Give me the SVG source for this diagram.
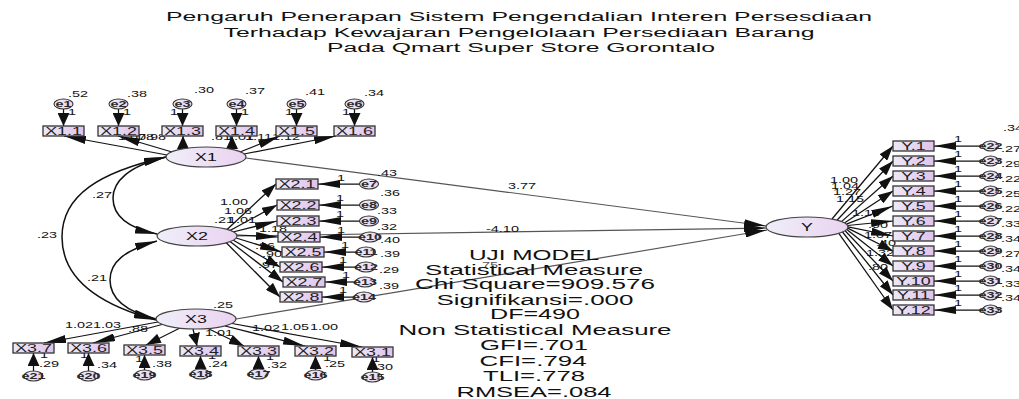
<svg xmlns="http://www.w3.org/2000/svg" width="1019" height="399" viewBox="0 0 1019 399">
<defs>
<linearGradient id="gBox" x1="0" y1="0" x2="1" y2="0"><stop offset="0" stop-color="#ece9f7"/><stop offset="1" stop-color="#e0c3ea"/></linearGradient>
<linearGradient id="gLat" x1="0" y1="0" x2="1" y2="0"><stop offset="0" stop-color="#efeef9"/><stop offset="1" stop-color="#ead3f0"/></linearGradient>
<marker id="aH" viewBox="0 0 22 8" refX="22" refY="4" markerWidth="22" markerHeight="8" orient="auto-start-reverse" markerUnits="userSpaceOnUse"><path d="M0,0 L22,4 L0,8 z" fill="#111"/></marker>
<marker id="aD" viewBox="0 0 15 10" refX="15" refY="5" markerWidth="15" markerHeight="10" orient="auto-start-reverse" markerUnits="userSpaceOnUse"><path d="M0,0 L15,5 L0,10 z" fill="#111"/></marker>
<marker id="aV" viewBox="0 0 13 12" refX="13" refY="6" markerWidth="13" markerHeight="12" orient="auto-start-reverse" markerUnits="userSpaceOnUse"><path d="M0,0 L13,6 L0,12 z" fill="#111"/></marker>
</defs>
<style>
.t{font-family:"Liberation Sans",Arial,sans-serif;fill:#111}
.s{font-size:8.5px}
.bx{font-size:10.5px;text-anchor:middle;fill:#1e1e1e}
.lt{font-size:11.5px;text-anchor:middle}
.er{font-size:9px;font-weight:bold;text-anchor:middle;fill:#2a2a2a}
.ti{font-size:12.5px;text-anchor:middle}
.st{font-size:15.5px;text-anchor:middle}
.box{fill:url(#gBox);stroke:#333;stroke-width:1.3}
.lat{fill:url(#gLat);stroke:#444;stroke-width:1.2}
.err{fill:url(#gLat);stroke:#333;stroke-width:1.1}
.c{fill:none;stroke:#111;stroke-width:1.25}
.g{fill:none;stroke:#555;stroke-width:1.2}
.h{marker-end:url(#aH)}
.d{marker-end:url(#aD)}
.v{marker-end:url(#aV)}
.cov{fill:none;stroke:#111;stroke-width:1.5;marker-start:url(#aH);marker-end:url(#aH)}
</style>
<rect width="1019" height="399" fill="#fff"/>

<g id="title">
<text class="t ti" x="519" y="21" textLength="706" lengthAdjust="spacingAndGlyphs">Pengaruh Penerapan Sistem Pengendalian Interen Persesdiaan</text>
<text class="t ti" x="519" y="36.5" textLength="591" lengthAdjust="spacingAndGlyphs">Terhadap Kewajaran Pengelolaan Persediaan Barang</text>
<text class="t ti" x="521" y="51.5" textLength="388" lengthAdjust="spacingAndGlyphs">Pada Qmart Super Store Gorontalo</text>
</g>

<g id="connectors">
<!-- covariances -->
<path class="cov" d="M166,157 C128,166 113,182 113,198 C113,216 128,228 157,234"/>
<path class="cov" d="M166,157 C100,172 62,195 62,237 C62,280 100,305 156,320"/>
<path class="cov" d="M157,241 C125,250 110,262 110,280 C110,300 128,312 156,319"/>
<!-- structural -->
<line class="g h" x1="246" y1="158" x2="766" y2="226"/>
<line class="g h" x1="237" y1="236" x2="766" y2="228"/>
<line class="g h" x1="236" y1="319" x2="767" y2="230"/>
<!-- X1 loadings -->
<line class="c h" x1="167" y1="155" x2="64" y2="136"/>
<line class="c h" x1="172" y1="152" x2="118" y2="136"/>
<line class="c v" x1="183" y1="149" x2="183" y2="136"/>
<line class="c v" x1="232" y1="149.5" x2="232" y2="136"/>
<line class="c h" x1="240" y1="152" x2="280" y2="136"/>
<line class="c h" x1="244" y1="154" x2="336" y2="136"/>
<!-- X1 errors -->
<line class="c v" x1="63.5" y1="108.5" x2="63.5" y2="126"/>
<line class="c v" x1="118.5" y1="108.5" x2="118.5" y2="126"/>
<line class="c v" x1="182.5" y1="108.5" x2="182.5" y2="126"/>
<line class="c v" x1="236.5" y1="108.5" x2="236.5" y2="126"/>
<line class="c v" x1="296.5" y1="108.5" x2="296.5" y2="126"/>
<line class="c v" x1="354.5" y1="108.5" x2="354.5" y2="126"/>
<!-- X2 loadings -->
<line class="c d" x1="227" y1="229.5" x2="276" y2="184"/>
<line class="c d" x1="230" y1="230.5" x2="277" y2="205"/>
<line class="c h" x1="233" y1="232" x2="277" y2="221"/>
<line class="c h" x1="236" y1="235" x2="278" y2="237"/>
<line class="c h" x1="236" y1="238" x2="282" y2="252"/>
<line class="c d" x1="233" y1="240" x2="280" y2="267"/>
<line class="c d" x1="230" y1="241.5" x2="283" y2="282"/>
<line class="c d" x1="226" y1="242.5" x2="280" y2="297"/>
<!-- X2 errors -->
<line class="c h" x1="360" y1="184" x2="318" y2="184"/>
<line class="c h" x1="360" y1="205" x2="319" y2="205"/>
<line class="c h" x1="360" y1="221" x2="319" y2="221"/>
<line class="c h" x1="361" y1="237" x2="320" y2="237"/>
<line class="c h" x1="357" y1="252" x2="324" y2="252"/>
<line class="c h" x1="357" y1="267" x2="322" y2="267"/>
<line class="c h" x1="356" y1="282" x2="325" y2="282"/>
<line class="c h" x1="355" y1="297" x2="322" y2="297"/>
<!-- X3 loadings -->
<line class="c h" x1="158" y1="322" x2="44" y2="343"/>
<line class="c h" x1="162" y1="324.5" x2="93" y2="343"/>
<line class="c d" x1="180" y1="328" x2="146" y2="345"/>
<line class="c v" x1="193" y1="329" x2="197" y2="346"/>
<line class="c d" x1="208" y1="328.5" x2="244" y2="346"/>
<line class="c h" x1="225" y1="326" x2="305" y2="346"/>
<line class="c h" x1="232" y1="323.5" x2="362" y2="347"/>
<!-- X3 errors -->
<line class="c v" x1="33.5" y1="371" x2="33.5" y2="353"/>
<line class="c v" x1="88.5" y1="371" x2="88.5" y2="353"/>
<line class="c v" x1="144.5" y1="370" x2="144.5" y2="355"/>
<line class="c v" x1="200.5" y1="369" x2="200.5" y2="356"/>
<line class="c v" x1="258.5" y1="369" x2="258.5" y2="356"/>
<line class="c v" x1="315.5" y1="370" x2="315.5" y2="356"/>
<line class="c v" x1="372.5" y1="372" x2="372.5" y2="357"/>
<!-- Y loadings -->
<line class="c d" x1="832" y1="219" x2="893" y2="146"/>
<line class="c d" x1="837" y1="220.3" x2="893" y2="161"/>
<line class="c d" x1="841.5" y1="221.6" x2="893" y2="176"/>
<line class="c d" x1="844.4" y1="222.9" x2="893" y2="191"/>
<line class="c h" x1="846.4" y1="224.2" x2="893" y2="206"/>
<line class="c h" x1="847.5" y1="225.5" x2="893" y2="221"/>
<line class="c h" x1="848" y1="226.8" x2="893" y2="236"/>
<line class="c d" x1="847.7" y1="228.1" x2="893" y2="251"/>
<line class="c d" x1="846.8" y1="229.4" x2="893" y2="266"/>
<line class="c d" x1="845.1" y1="230.7" x2="893" y2="281"/>
<line class="c d" x1="842.5" y1="232" x2="893" y2="295"/>
<line class="c d" x1="838.8" y1="233.3" x2="893" y2="310"/>
<!-- Y errors -->
<line class="c h" x1="983" y1="146" x2="934" y2="146"/>
<line class="c h" x1="983" y1="161" x2="934" y2="161"/>
<line class="c h" x1="983" y1="176" x2="934" y2="176"/>
<line class="c h" x1="983" y1="191" x2="934" y2="191"/>
<line class="c h" x1="983" y1="206" x2="934" y2="206"/>
<line class="c h" x1="983" y1="221" x2="934" y2="221"/>
<line class="c h" x1="983" y1="236" x2="934" y2="236"/>
<line class="c h" x1="983" y1="251" x2="934" y2="251"/>
<line class="c h" x1="983" y1="266" x2="934" y2="266"/>
<line class="c h" x1="983" y1="281" x2="934" y2="281"/>
<line class="c h" x1="983" y1="295" x2="934" y2="295"/>
<line class="c h" x1="983" y1="310" x2="934" y2="310"/>

<!-- labels -->
<g class="t s">
<text transform="translate(92,198) scale(1.7,1)">.27</text>
<text transform="translate(37,238) scale(1.7,1)">.23</text>
<text transform="translate(87,281) scale(1.7,1)">.21</text>
<text transform="translate(377,176) scale(1.7,1)">.43</text>
<text transform="translate(508,189) scale(1.7,1)">3.77</text>
<text transform="translate(486,232) scale(1.7,1)">-4.10</text>
<text transform="translate(478,268) scale(1.7,1)" fill="#555">.75</text>
<!-- X1 -->
<text transform="translate(68,97) scale(1.7,1)">.52</text>
<text transform="translate(127,97) scale(1.7,1)">.38</text>
<text transform="translate(194,93) scale(1.7,1)">.30</text>
<text transform="translate(245,94) scale(1.7,1)">.37</text>
<text transform="translate(305,95) scale(1.7,1)">.41</text>
<text transform="translate(364,96) scale(1.7,1)">.34</text>
<text transform="translate(68,115) scale(1.7,1)">1</text>
<text transform="translate(123,115) scale(1.7,1)">1</text>
<text transform="translate(170,115) scale(1.7,1)">1</text>
<text transform="translate(241,115) scale(1.7,1)">1</text>
<text transform="translate(285,115) scale(1.7,1)">1</text>
<text transform="translate(342,115) scale(1.7,1)">1</text>
<text transform="translate(118,140) scale(1.7,1)">1.00</text>
<text transform="translate(134,140) scale(1.7,1)">.78</text>
<text transform="translate(146,140) scale(1.7,1)">.98</text>
<text transform="translate(211,140) scale(1.7,1)">.81</text>
<text transform="translate(226,140) scale(1.7,1)">1.01</text>
<text transform="translate(245,140) scale(1.7,1)">1.11</text>
<text transform="translate(272,140) scale(1.7,1)">1.12</text>
<!-- X2 -->
<text transform="translate(220,205) scale(1.7,1)">1.00</text>
<text transform="translate(224,214) scale(1.7,1)">1.06</text>
<text transform="translate(214,223) scale(1.7,1)">.21</text>
<text transform="translate(228,223) scale(1.7,1)">1.01</text>
<text transform="translate(259,232) scale(1.7,1)">1.18</text>
<text transform="translate(255,249) scale(1.7,1)">.96</text>
<text transform="translate(262,257) scale(1.7,1)">.90</text>
<text transform="translate(258,268) scale(1.7,1)">.97</text>
<text transform="translate(337,181) scale(1.7,1)">1</text>
<text transform="translate(336,201) scale(1.7,1)">1</text>
<text transform="translate(336,217) scale(1.7,1)">1</text>
<text transform="translate(337,233) scale(1.7,1)">1</text>
<text transform="translate(341,248) scale(1.7,1)">1</text>
<text transform="translate(339,263) scale(1.7,1)">1</text>
<text transform="translate(342,278) scale(1.7,1)">1</text>
<text transform="translate(339,293) scale(1.7,1)">1</text>
<text transform="translate(380,196) scale(1.7,1)">.36</text>
<text transform="translate(377,214) scale(1.7,1)">.33</text>
<text transform="translate(377,230) scale(1.7,1)">.32</text>
<text transform="translate(380,243) scale(1.7,1)">.40</text>
<text transform="translate(380,257) scale(1.7,1)">.39</text>
<text transform="translate(379,273) scale(1.7,1)">.29</text>
<text transform="translate(379,289) scale(1.7,1)">.39</text>
<!-- X3 -->
<text transform="translate(213,308) scale(1.7,1)">.25</text>
<text transform="translate(65,328) scale(1.7,1)">1.02</text>
<text transform="translate(93,328) scale(1.7,1)">1.03</text>
<text transform="translate(128,332) scale(1.7,1)">.88</text>
<text transform="translate(205,336) scale(1.7,1)">1.01</text>
<text transform="translate(252,331) scale(1.7,1)">1.02</text>
<text transform="translate(281,330) scale(1.7,1)">1.05</text>
<text transform="translate(310,330) scale(1.7,1)">1.00</text>
<text transform="translate(40,358) scale(1.7,1)">1</text>
<text transform="translate(80,358) scale(1.7,1)">1</text>
<text transform="translate(135,362) scale(1.7,1)">1</text>
<text transform="translate(208,359) scale(1.7,1)">1</text>
<text transform="translate(266,360) scale(1.7,1)">1</text>
<text transform="translate(323,361) scale(1.7,1)">1</text>
<text transform="translate(372,362) scale(1.7,1)">1</text>
<text transform="translate(39,367) scale(1.7,1)">.29</text>
<text transform="translate(97,368) scale(1.7,1)">.34</text>
<text transform="translate(152,367) scale(1.7,1)">.38</text>
<text transform="translate(208,367) scale(1.7,1)">.24</text>
<text transform="translate(267,368) scale(1.7,1)">.32</text>
<text transform="translate(325,367) scale(1.7,1)">.25</text>
<text transform="translate(373,370) scale(1.7,1)">.30</text>
<!-- Y -->
<text transform="translate(830,183) scale(1.7,1)">1.00</text>
<text transform="translate(831,189) scale(1.7,1)">1.04</text>
<text transform="translate(833,195) scale(1.7,1)">1.27</text>
<text transform="translate(836,202) scale(1.7,1)">1.15</text>
<text transform="translate(852,216) scale(1.7,1)">1.16</text>
<text transform="translate(868,228) scale(1.7,1)">.90</text>
<text transform="translate(864,238) scale(1.7,1)">1.07</text>
<text transform="translate(876,246) scale(1.7,1)">.40</text>
<text transform="translate(866,256) scale(1.7,1)">1.32</text>
<text transform="translate(868,270) scale(1.7,1)">.80</text>
<text transform="translate(954,142) scale(1.7,1)">1</text>
<text transform="translate(954,157) scale(1.7,1)">1</text>
<text transform="translate(954,172) scale(1.7,1)">1</text>
<text transform="translate(954,187) scale(1.7,1)">1</text>
<text transform="translate(954,202) scale(1.7,1)">1</text>
<text transform="translate(954,217) scale(1.7,1)">1</text>
<text transform="translate(954,232) scale(1.7,1)">1</text>
<text transform="translate(954,247) scale(1.7,1)">1</text>
<text transform="translate(954,262) scale(1.7,1)">1</text>
<text transform="translate(954,277) scale(1.7,1)">1</text>
<text transform="translate(954,291) scale(1.7,1)">1</text>
<text transform="translate(954,306) scale(1.7,1)">1</text>
<text transform="translate(1003,131) scale(1.7,1)">.34</text>
<text transform="translate(1001,152) scale(1.7,1)">.27</text>
<text transform="translate(1001,167) scale(1.7,1)">.29</text>
<text transform="translate(1001,182) scale(1.7,1)">.22</text>
<text transform="translate(1001,197) scale(1.7,1)">.25</text>
<text transform="translate(1001,212) scale(1.7,1)">.22</text>
<text transform="translate(1001,227) scale(1.7,1)">.33</text>
<text transform="translate(1001,242) scale(1.7,1)">.34</text>
<text transform="translate(1001,257) scale(1.7,1)">.27</text>
<text transform="translate(1001,272) scale(1.7,1)">.34</text>
<text transform="translate(1001,287) scale(1.7,1)">.33</text>
<text transform="translate(1001,301) scale(1.7,1)">.34</text>
</g>
</g>

<!-- latent nodes -->
<g id="X1"><ellipse class="lat" cx="206" cy="157" rx="40" ry="10"/><text class="t lt" transform="translate(206,161) scale(1.55,1)">X1</text></g>
<g id="X2"><ellipse class="lat" cx="197" cy="236" rx="40" ry="10"/><text class="t lt" transform="translate(197,240) scale(1.55,1)">X2</text></g>
<g id="X3"><ellipse class="lat" cx="196" cy="319" rx="40" ry="10"/><text class="t lt" transform="translate(196,323) scale(1.55,1)">X3</text></g>
<g id="Y"><ellipse class="lat" cx="807" cy="227" rx="41" ry="10"/><text class="t lt" transform="translate(807,231) scale(1.55,1)">Y</text></g>

<!-- X1 indicators -->
<g id="X1_1"><rect class="box" x="43" y="126" width="41" height="10"/><text class="t bx" transform="translate(63.5,134.8) scale(1.7,1)">X1.1</text></g>
<g id="X1_2"><rect class="box" x="98" y="126" width="41" height="10"/><text class="t bx" transform="translate(118.5,134.8) scale(1.7,1)">X1.2</text></g>
<g id="X1_3"><rect class="box" x="162" y="126" width="41" height="10"/><text class="t bx" transform="translate(182.5,134.8) scale(1.7,1)">X1.3</text></g>
<g id="X1_4"><rect class="box" x="216" y="126" width="41" height="10"/><text class="t bx" transform="translate(236.5,134.8) scale(1.7,1)">X1.4</text></g>
<g id="X1_5"><rect class="box" x="276" y="126" width="41" height="10"/><text class="t bx" transform="translate(296.5,134.8) scale(1.7,1)">X1.5</text></g>
<g id="X1_6"><rect class="box" x="334" y="126" width="41" height="10"/><text class="t bx" transform="translate(354.5,134.8) scale(1.7,1)">X1.6</text></g>
<g id="e1"><ellipse class="err" cx="63.5" cy="104" rx="9.5" ry="5"/><text class="t er" transform="translate(63.5,107.3) scale(1.6,1)">e1</text></g>
<g id="e2"><ellipse class="err" cx="118.5" cy="104" rx="9.5" ry="5"/><text class="t er" transform="translate(118.5,107.3) scale(1.6,1)">e2</text></g>
<g id="e3"><ellipse class="err" cx="182.5" cy="104" rx="9.5" ry="5"/><text class="t er" transform="translate(182.5,107.3) scale(1.6,1)">e3</text></g>
<g id="e4"><ellipse class="err" cx="236.5" cy="104" rx="9.5" ry="5"/><text class="t er" transform="translate(236.5,107.3) scale(1.6,1)">e4</text></g>
<g id="e5"><ellipse class="err" cx="296.5" cy="104" rx="9.5" ry="5"/><text class="t er" transform="translate(296.5,107.3) scale(1.6,1)">e5</text></g>
<g id="e6"><ellipse class="err" cx="354.5" cy="104" rx="9.5" ry="5"/><text class="t er" transform="translate(354.5,107.3) scale(1.6,1)">e6</text></g>

<!-- X2 indicators -->
<g id="X2_1"><rect class="box" x="276" y="179" width="42" height="10"/><text class="t bx" transform="translate(297,187.8) scale(1.7,1)">X2.1</text></g>
<g id="X2_2"><rect class="box" x="277" y="200" width="42" height="10"/><text class="t bx" transform="translate(298,208.8) scale(1.7,1)">X2.2</text></g>
<g id="X2_3"><rect class="box" x="277" y="216" width="42" height="10"/><text class="t bx" transform="translate(298,224.8) scale(1.7,1)">X2.3</text></g>
<g id="X2_4"><rect class="box" x="278" y="232" width="42" height="10"/><text class="t bx" transform="translate(299,240.8) scale(1.7,1)">X2.4</text></g>
<g id="X2_5"><rect class="box" x="282" y="247" width="42" height="10"/><text class="t bx" transform="translate(303,255.8) scale(1.7,1)">X2.5</text></g>
<g id="X2_6"><rect class="box" x="280" y="262" width="42" height="10"/><text class="t bx" transform="translate(301,270.8) scale(1.7,1)">X2.6</text></g>
<g id="X2_7"><rect class="box" x="283" y="277" width="42" height="10"/><text class="t bx" transform="translate(304,285.8) scale(1.7,1)">X2.7</text></g>
<g id="X2_8"><rect class="box" x="280" y="292" width="42" height="10"/><text class="t bx" transform="translate(301,300.8) scale(1.7,1)">X2.8</text></g>
<g id="e7"><ellipse class="err" cx="369" cy="184" rx="9.5" ry="5"/><text class="t er" transform="translate(369,187.3) scale(1.6,1)">e7</text></g>
<g id="e8"><ellipse class="err" cx="369" cy="205" rx="9.5" ry="5"/><text class="t er" transform="translate(369,208.3) scale(1.6,1)">e8</text></g>
<g id="e9"><ellipse class="err" cx="369" cy="221" rx="9.5" ry="5"/><text class="t er" transform="translate(369,224.3) scale(1.6,1)">e9</text></g>
<g id="e10"><ellipse class="err" cx="370" cy="237" rx="9.5" ry="5"/><text class="t er" transform="translate(370,240.3) scale(1.6,1)">e10</text></g>
<g id="e11"><ellipse class="err" cx="366" cy="252" rx="9.5" ry="5"/><text class="t er" transform="translate(366,255.3) scale(1.6,1)">e11</text></g>
<g id="e12"><ellipse class="err" cx="366" cy="267" rx="9.5" ry="5"/><text class="t er" transform="translate(366,270.3) scale(1.6,1)">e12</text></g>
<g id="e13"><ellipse class="err" cx="365" cy="282" rx="9.5" ry="5"/><text class="t er" transform="translate(365,285.3) scale(1.6,1)">e13</text></g>
<g id="e14"><ellipse class="err" cx="364" cy="297" rx="9.5" ry="5"/><text class="t er" transform="translate(364,300.3) scale(1.6,1)">e14</text></g>

<!-- X3 indicators -->
<g id="X3_7"><rect class="box" x="13" y="343" width="41" height="10"/><text class="t bx" transform="translate(33.5,351.8) scale(1.7,1)">X3.7</text></g>
<g id="X3_6"><rect class="box" x="68" y="343" width="41" height="10"/><text class="t bx" transform="translate(88.5,351.8) scale(1.7,1)">X3.6</text></g>
<g id="X3_5"><rect class="box" x="124" y="345" width="41" height="10"/><text class="t bx" transform="translate(144.5,353.8) scale(1.7,1)">X3.5</text></g>
<g id="X3_4"><rect class="box" x="180" y="346" width="41" height="10"/><text class="t bx" transform="translate(200.5,354.8) scale(1.7,1)">X3.4</text></g>
<g id="X3_3"><rect class="box" x="238" y="346" width="41" height="10"/><text class="t bx" transform="translate(258.5,354.8) scale(1.7,1)">X3.3</text></g>
<g id="X3_2"><rect class="box" x="295" y="346" width="41" height="10"/><text class="t bx" transform="translate(315.5,354.8) scale(1.7,1)">X3.2</text></g>
<g id="X3_1"><rect class="box" x="352" y="347" width="41" height="10"/><text class="t bx" transform="translate(372.5,355.8) scale(1.7,1)">X3.1</text></g>
<g id="e21"><ellipse class="err" cx="33.5" cy="376" rx="9.5" ry="5"/><text class="t er" transform="translate(33.5,379.3) scale(1.6,1)">e21</text></g>
<g id="e20"><ellipse class="err" cx="88.5" cy="376" rx="9.5" ry="5"/><text class="t er" transform="translate(88.5,379.3) scale(1.6,1)">e20</text></g>
<g id="e19"><ellipse class="err" cx="144.5" cy="375" rx="9.5" ry="5"/><text class="t er" transform="translate(144.5,378.3) scale(1.6,1)">e19</text></g>
<g id="e18"><ellipse class="err" cx="200.5" cy="374" rx="9.5" ry="5"/><text class="t er" transform="translate(200.5,377.3) scale(1.6,1)">e18</text></g>
<g id="e17"><ellipse class="err" cx="258.5" cy="374" rx="9.5" ry="5"/><text class="t er" transform="translate(258.5,377.3) scale(1.6,1)">e17</text></g>
<g id="e16"><ellipse class="err" cx="315.5" cy="375" rx="9.5" ry="5"/><text class="t er" transform="translate(315.5,378.3) scale(1.6,1)">e16</text></g>
<g id="e15"><ellipse class="err" cx="372.5" cy="377" rx="9.5" ry="5"/><text class="t er" transform="translate(372.5,380.3) scale(1.6,1)">e15</text></g>

<!-- Y indicators -->
<g id="Y_1"><rect class="box" x="893" y="141" width="41" height="10"/><text class="t bx" transform="translate(913.5,149.8) scale(1.7,1)">Y.1</text></g>
<g id="Y_2"><rect class="box" x="893" y="156" width="41" height="10"/><text class="t bx" transform="translate(913.5,164.8) scale(1.7,1)">Y.2</text></g>
<g id="Y_3"><rect class="box" x="893" y="171" width="41" height="10"/><text class="t bx" transform="translate(913.5,179.8) scale(1.7,1)">Y.3</text></g>
<g id="Y_4"><rect class="box" x="893" y="186" width="41" height="10"/><text class="t bx" transform="translate(913.5,194.8) scale(1.7,1)">Y.4</text></g>
<g id="Y_5"><rect class="box" x="893" y="201" width="41" height="10"/><text class="t bx" transform="translate(913.5,209.8) scale(1.7,1)">Y.5</text></g>
<g id="Y_6"><rect class="box" x="893" y="216" width="41" height="10"/><text class="t bx" transform="translate(913.5,224.8) scale(1.7,1)">Y.6</text></g>
<g id="Y_7"><rect class="box" x="893" y="231" width="41" height="10"/><text class="t bx" transform="translate(913.5,239.8) scale(1.7,1)">Y.7</text></g>
<g id="Y_8"><rect class="box" x="893" y="246" width="41" height="10"/><text class="t bx" transform="translate(913.5,254.8) scale(1.7,1)">Y.8</text></g>
<g id="Y_9"><rect class="box" x="893" y="261" width="41" height="10"/><text class="t bx" transform="translate(913.5,269.8) scale(1.7,1)">Y.9</text></g>
<g id="Y_10"><rect class="box" x="893" y="276" width="41" height="10"/><text class="t bx" transform="translate(913.5,284.8) scale(1.7,1)">Y.10</text></g>
<g id="Y_11"><rect class="box" x="893" y="290" width="41" height="10"/><text class="t bx" transform="translate(913.5,298.8) scale(1.7,1)">Y.11</text></g>
<g id="Y_12"><rect class="box" x="893" y="305" width="41" height="10"/><text class="t bx" transform="translate(913.5,313.8) scale(1.7,1)">Y.12</text></g>
<g id="e22"><ellipse class="err" cx="990.5" cy="146" rx="8" ry="5"/><text class="t er" transform="translate(990.5,149.3) scale(1.6,1)">e22</text></g>
<g id="e23"><ellipse class="err" cx="990.5" cy="161" rx="8" ry="5"/><text class="t er" transform="translate(990.5,164.3) scale(1.6,1)">e23</text></g>
<g id="e24"><ellipse class="err" cx="990.5" cy="176" rx="8" ry="5"/><text class="t er" transform="translate(990.5,179.3) scale(1.6,1)">e24</text></g>
<g id="e25"><ellipse class="err" cx="990.5" cy="191" rx="8" ry="5"/><text class="t er" transform="translate(990.5,194.3) scale(1.6,1)">e25</text></g>
<g id="e26"><ellipse class="err" cx="990.5" cy="206" rx="8" ry="5"/><text class="t er" transform="translate(990.5,209.3) scale(1.6,1)">e26</text></g>
<g id="e27"><ellipse class="err" cx="990.5" cy="221" rx="8" ry="5"/><text class="t er" transform="translate(990.5,224.3) scale(1.6,1)">e27</text></g>
<g id="e28"><ellipse class="err" cx="990.5" cy="236" rx="8" ry="5"/><text class="t er" transform="translate(990.5,239.3) scale(1.6,1)">e28</text></g>
<g id="e29"><ellipse class="err" cx="990.5" cy="251" rx="8" ry="5"/><text class="t er" transform="translate(990.5,254.3) scale(1.6,1)">e29</text></g>
<g id="e30"><ellipse class="err" cx="990.5" cy="266" rx="8" ry="5"/><text class="t er" transform="translate(990.5,269.3) scale(1.6,1)">e30</text></g>
<g id="e31"><ellipse class="err" cx="990.5" cy="281" rx="8" ry="5"/><text class="t er" transform="translate(990.5,284.3) scale(1.6,1)">e31</text></g>
<g id="e32"><ellipse class="err" cx="990.5" cy="295" rx="8" ry="5"/><text class="t er" transform="translate(990.5,298.3) scale(1.6,1)">e32</text></g>
<g id="e33"><ellipse class="err" cx="990.5" cy="310" rx="8" ry="5"/><text class="t er" transform="translate(990.5,313.3) scale(1.6,1)">e33</text></g>

<g id="stats">
<text class="t st" x="534" y="260" textLength="130" lengthAdjust="spacingAndGlyphs">UJI MODEL</text>
<text class="t st" x="534" y="274.6" textLength="218" lengthAdjust="spacingAndGlyphs">Statistical Measure</text>
<text class="t st" x="535" y="289" textLength="240" lengthAdjust="spacingAndGlyphs">Chi Square=909.576</text>
<text class="t st" x="535" y="304.6" textLength="197" lengthAdjust="spacingAndGlyphs">Signifikansi=.000</text>
<text class="t st" x="535" y="319" textLength="90" lengthAdjust="spacingAndGlyphs">DF=490</text>
<text class="t st" x="535" y="335" textLength="273" lengthAdjust="spacingAndGlyphs">Non Statistical Measure</text>
<text class="t st" x="534" y="350" textLength="108" lengthAdjust="spacingAndGlyphs">GFI=.701</text>
<text class="t st" x="533" y="365.6" textLength="107" lengthAdjust="spacingAndGlyphs">CFI=.794</text>
<text class="t st" x="534" y="381.3" textLength="102" lengthAdjust="spacingAndGlyphs">TLI=.778</text>
<text class="t st" x="534" y="396.5" textLength="155" lengthAdjust="spacingAndGlyphs">RMSEA=.084</text>
</g>
</svg>
